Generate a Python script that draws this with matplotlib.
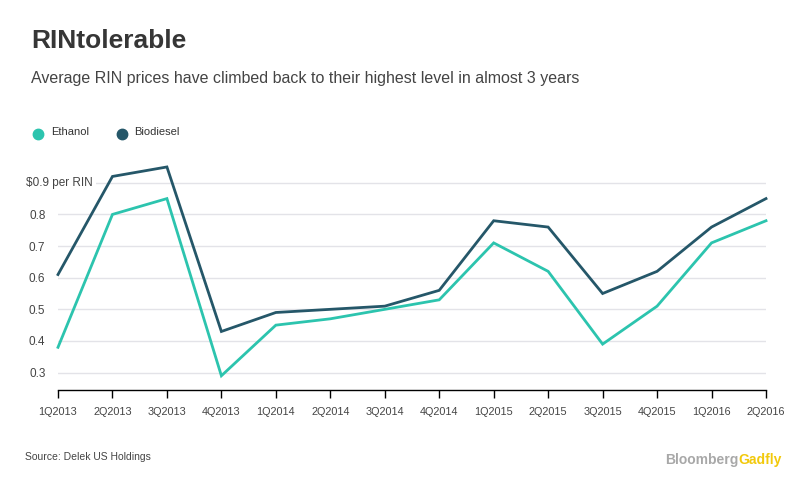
import matplotlib
matplotlib.use("Agg")
import matplotlib.pyplot as plt
from matplotlib.lines import Line2D

quarters = ["1Q2013", "2Q2013", "3Q2013", "4Q2013", "1Q2014", "2Q2014", "3Q2014",
            "4Q2014", "1Q2015", "2Q2015", "3Q2015", "4Q2015", "1Q2016", "2Q2016"]
ethanol = [0.38, 0.80, 0.85, 0.29, 0.45, 0.47, 0.50, 0.53, 0.71, 0.62, 0.39, 0.51, 0.71, 0.78]
biodiesel = [0.61, 0.92, 0.95, 0.43, 0.49, 0.50, 0.51, 0.56, 0.78, 0.76, 0.55, 0.62, 0.76, 0.85]
yticks = [0.3, 0.4, 0.5, 0.6, 0.7, 0.8, 0.9]
ytick_labels = ["0.3", "0.4", "0.5", "0.6", "0.7", "0.8", "$0.9 per RIN"]

C_ETH = "#2cc4ae"
C_BIO = "#255769"
FONT = "Liberation Sans"
plt.rcParams['font.family'] = [FONT, 'DejaVu Sans']

W, H = 812, 497
fig = plt.figure(figsize=(W / 100, H / 100), dpi=100)
left, right, top, bottom = 58, 766, 160, 390
ax = fig.add_axes([left / W, 1 - bottom / H, (right - left) / W, (bottom - top) / H])

x = list(range(len(quarters)))
ax.plot(x, ethanol, color=C_ETH, lw=2.0, solid_joinstyle='miter', zorder=3, clip_on=False)
ax.plot(x, biodiesel, color=C_BIO, lw=2.0, solid_joinstyle='miter', zorder=3, clip_on=False)

ax.set_xlim(0, len(quarters) - 1)
ax.set_ylim(0.245, 0.972)
ax.set_xticks(x)
ax.set_xticklabels(quarters, fontsize=7.8, color="#444444")
ax.set_yticks(yticks)
ax.set_yticklabels(ytick_labels[:-1] + [""], fontsize=8.5, color="#444444")
ax.tick_params(axis='x', length=6, width=1, color="black", pad=6)
ax.tick_params(axis='y', length=0, pad=9)
ax.grid(axis='y', color="#e3e3e8", lw=1)
ax.set_axisbelow(True)
for s in ["top", "right", "left"]:
    ax.spines[s].set_visible(False)
ax.spines["bottom"].set_color("black")
ax.spines["bottom"].set_linewidth(1)

# top y label with white background over grid line
step = (right - left) / (len(quarters) - 1)
ax.text(-32 / step, yticks[-1], ytick_labels[-1], fontsize=8.5, color="#444444", ha="left", va="center",
        zorder=2, bbox=dict(facecolor="white", edgecolor="none", pad=2))

fig.text(31 / W, 1 - 41 / H, "RINtolerable", fontsize=19, fontweight="bold", color="#363636",
         ha="left", va="center")
fig.text(31 / W, 1 - 79 / H, "Average RIN prices have climbed back to their highest level in almost 3 years",
         fontsize=11.5, color="#444444", ha="left", va="center")

# legend
for cx, tx, col, lab in [(38, 51, C_ETH, "Ethanol"), (122, 134, C_BIO, "Biodiesel")]:
    fig.add_artist(Line2D([cx / W], [1 - 134 / H], marker='o', ms=7.5, color=col, lw=0,
                          transform=fig.transFigure))
    fig.text(tx / W, 1 - 132 / H, lab, fontsize=8, color="#333333", ha="left", va="center")

fig.text(25 / W, 1 - 457 / H, "Source: Delek US Holdings", fontsize=7.5, color="#444444",
         ha="left", va="center")
t1 = fig.text(782 / W, 1 - 460 / H, "Gadfly", fontsize=10, fontweight="bold", color="#f2c90c",
              ha="right", va="center")
fig.canvas.draw()
bb = t1.get_window_extent()
fig.text(bb.x0 / W, 1 - 460 / H, "Bloomberg", fontsize=10, fontweight="bold", color="#a8a8a8",
         ha="right", va="center")

fig.savefig("out.png", dpi=100)
